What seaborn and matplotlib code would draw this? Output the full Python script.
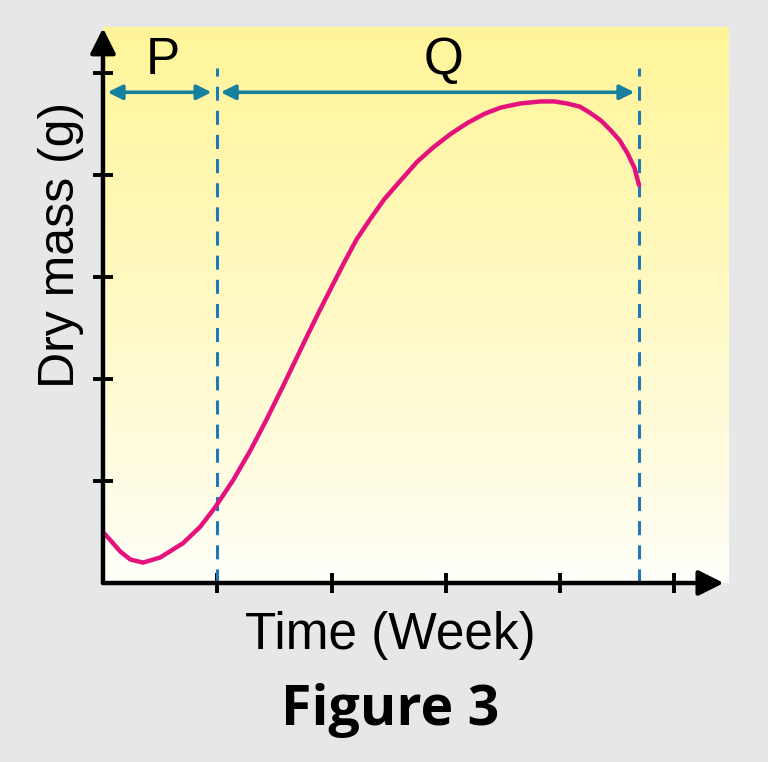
import matplotlib.pyplot as plt
import seaborn as sns
import numpy as np
import pandas as pd

sns.set_theme(style="white")
plt.rcParams["font.family"] = ["Liberation Sans", "DejaVu Sans"]
plt.rcParams["text.color"] = "black"

BG = "#e6e7e9"
CURVE = "#e5127d"
DASH = "#1f78b8"
ARROW = "#17809c"
SANS = ["Liberation Sans", "DejaVu Sans"]

# Curve (week, dry mass)
weeks = [0.00, 0.08, 0.15, 0.24, 0.35, 0.50, 0.70, 0.85, 0.98, 1.14, 1.29, 1.43,
         1.58, 1.67, 1.79, 1.90, 2.00, 2.10, 2.22, 2.34, 2.46, 2.60, 2.75, 2.89,
         3.04, 3.19, 3.34, 3.48, 3.65, 3.83, 3.95, 4.06, 4.17, 4.26, 4.36, 4.44,
         4.52, 4.59, 4.65, 4.69]
dry_mass = [0.50, 0.40, 0.31, 0.23, 0.20, 0.25, 0.39, 0.55, 0.74, 1.01, 1.30, 1.60,
            1.94, 2.15, 2.43, 2.68, 2.90, 3.12, 3.37, 3.57, 3.76, 3.94, 4.13, 4.27,
            4.40, 4.51, 4.60, 4.66, 4.70, 4.72, 4.72, 4.70, 4.67, 4.61, 4.53, 4.44,
            4.34, 4.21, 4.07, 3.90]
x_ticks = [1, 2, 3, 4, 5]
y_ticks = [1, 2, 3, 4, 5]
phase_bounds = [1.0, 4.69]
phase_labels = ["P", "Q"]
phase_label_x = [0.525, 2.98]

df = pd.DataFrame({"week": weeks, "mass": dry_mass})

fig = plt.figure(figsize=(7.68, 7.62), dpi=100, facecolor=BG)
ax = fig.add_axes([0.1341, 0.2349, 0.814, 0.7297])
XMAX, YMAX = 5.47, 5.45
ax.set_xlim(0, XMAX)
ax.set_ylim(0, YMAX)

# yellow-to-white background panel
grad = np.linspace(0, 1, 256).reshape(-1, 1)
top = np.array([1.0, 0.960, 0.60])
bot = np.array([1.0, 1.0, 0.985])
img = bot + (top - bot) * grad[..., None] ** 0.85
ax.imshow(img, extent=[0, XMAX, 0, YMAX], origin="lower", aspect="auto", zorder=0)

sns.lineplot(data=df, x="week", y="mass", ax=ax, color=CURVE, linewidth=3.2,
             sort=False, zorder=3, solid_joinstyle="round", solid_capstyle="round")

# dashed phase boundaries
for xb in phase_bounds:
    ax.plot([xb, xb], [0, 5.05], color=DASH, lw=2.2, dashes=(4.6, 3.3), zorder=2)

# P and Q double arrows
arrow_y = 4.81
spans = [(0.04, 0.95), (1.03, 4.65)]
for (x0, x1), lab, lx in zip(spans, phase_labels, phase_label_x):
    ax.annotate("", xy=(x1, arrow_y), xytext=(x0, arrow_y),
                arrowprops=dict(arrowstyle="<|-|>", color=ARROW, lw=2.6,
                                mutation_scale=22, shrinkA=0, shrinkB=0))
    ax.text(lx, 5.12, lab, ha="center", va="center", fontsize=37,
            color="black", family=SANS)

# axes with arrow heads
for s in ax.spines.values():
    s.set_visible(False)
ax.annotate("", xy=(XMAX * 0.993, 0), xytext=(0, 0),
            arrowprops=dict(arrowstyle="-|>", color="black", lw=3.2,
                            mutation_scale=38, shrinkA=0, shrinkB=0),
            annotation_clip=False)
ax.annotate("", xy=(0, YMAX * 0.998), xytext=(0, 0),
            arrowprops=dict(arrowstyle="-|>", color="black", lw=3.2,
                            mutation_scale=38, shrinkA=0, shrinkB=0),
            annotation_clip=False)

ax.set_xticks(x_ticks)
ax.set_yticks(y_ticks)
ax.set_xticklabels([])
ax.set_yticklabels([])
ax.tick_params(direction="inout", length=15, width=2.8, color="black",
               bottom=True, left=True)
ax.grid(False)

ax.set_xlabel("")
ax.set_ylabel("")
fig.text(0.508, 0.166, "Time (Week)", ha="center", va="center", fontsize=37,
         family=SANS, color="black")
fig.text(0.080, 0.678, "Dry mass (g)", ha="center", va="center", fontsize=36,
         rotation=90, family=SANS, color="black")
fig.text(0.508, 0.068, "Figure 3", ha="center", va="center", fontsize=40,
         fontweight="bold", family=["Open Sans", "DejaVu Sans"], color="black")

fig.savefig("out.png", dpi=100, facecolor=BG)
